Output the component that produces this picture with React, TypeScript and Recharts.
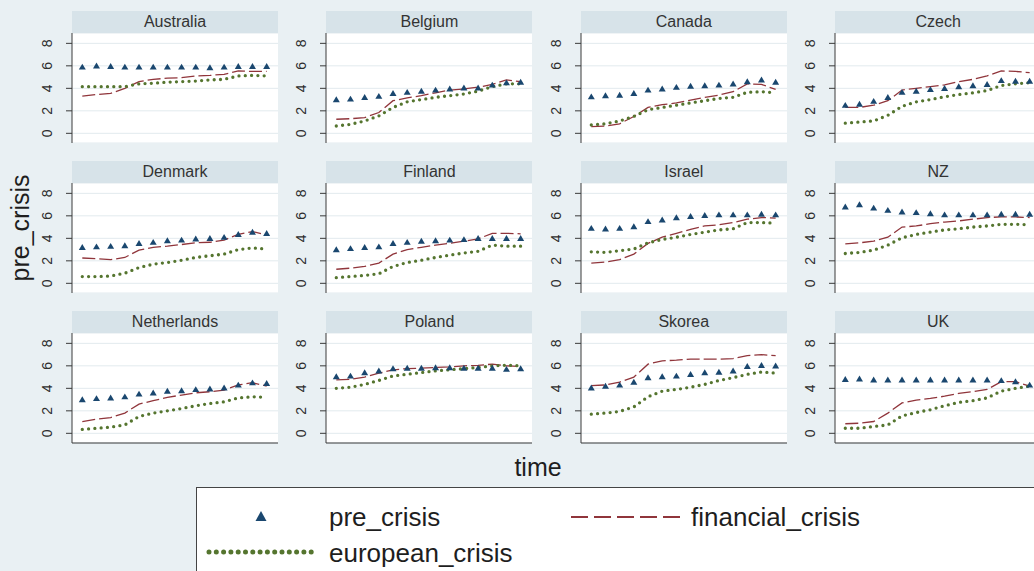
import { ComposedChart, Line, Scatter, XAxis, YAxis, CartesianGrid } from 'recharts';

const time = [1, 2, 3, 4, 5, 6, 7, 8, 9, 10, 11, 12, 13, 14];
const yTicks = [0, 2, 4, 6, 8];

const australiaPre = [5.9, 6.0, 5.95, 5.9, 5.9, 5.9, 5.9, 5.9, 5.9, 5.85, 5.9, 5.95, 5.95, 5.95];
const australiaFin = [3.3, 3.45, 3.55, 4.0, 4.6, 4.8, 4.9, 4.95, 5.1, 5.15, 5.25, 5.55, 5.5, 5.5];
const australiaEur = [4.15, 4.15, 4.15, 4.15, 4.4, 4.45, 4.55, 4.6, 4.65, 4.75, 4.8, 5.1, 5.15, 5.1];

const belgiumPre = [3.0, 3.05, 3.2, 3.3, 3.55, 3.65, 3.75, 3.85, 3.95, 4.05, 4.05, 4.3, 4.5, 4.55];
const belgiumFin = [1.25, 1.3, 1.4, 1.85, 2.9, 3.15, 3.35, 3.6, 3.85, 3.95, 4.1, 4.35, 4.75, 4.6];
const belgiumEur = [0.65, 0.8, 1.1, 1.55, 2.3, 2.8, 3.0, 3.2, 3.35, 3.5, 3.75, 4.15, 4.4, 4.4];

const canadaPre = [3.25, 3.35, 3.4, 3.55, 3.85, 3.95, 4.1, 4.2, 4.25, 4.3, 4.4, 4.6, 4.75, 4.55];
const canadaFin = [0.6, 0.65, 0.85, 1.5, 2.3, 2.55, 2.7, 2.95, 3.2, 3.4, 3.7, 4.4, 4.35, 3.9];
const canadaEur = [0.75, 0.85, 1.1, 1.5, 2.1, 2.3, 2.5, 2.7, 2.9, 3.1, 3.2, 3.65, 3.7, 3.6];

const czechPre = [2.5, 2.6, 2.85, 3.2, 3.65, 3.75, 3.9, 4.0, 4.15, 4.25, 4.35, 4.7, 4.65, 4.65];
const czechFin = [2.3, 2.3, 2.5, 2.9, 3.85, 4.0, 4.15, 4.3, 4.6, 4.8, 5.1, 5.55, 5.5, 5.4];
const czechEur = [0.9, 1.0, 1.1, 1.6, 2.4, 2.8, 3.0, 3.25, 3.45, 3.6, 3.8, 4.25, 4.4, 4.5];

const denmarkPre = [3.2, 3.25, 3.3, 3.35, 3.55, 3.65, 3.8, 3.85, 3.95, 4.0, 4.1, 4.35, 4.55, 4.45];
const denmarkFin = [2.25, 2.2, 2.1, 2.3, 2.95, 3.2, 3.3, 3.45, 3.6, 3.65, 3.85, 4.35, 4.6, 4.3];
const denmarkEur = [0.6, 0.6, 0.65, 0.9, 1.4, 1.7, 1.85, 2.05, 2.3, 2.45, 2.6, 3.0, 3.15, 3.05];

const finlandPre = [3.0, 3.1, 3.2, 3.25, 3.55, 3.65, 3.75, 3.8, 3.85, 3.9, 4.0, 4.0, 4.0, 4.0];
const finlandFin = [1.25, 1.35, 1.5, 1.8, 2.6, 3.0, 3.2, 3.4, 3.55, 3.75, 3.95, 4.45, 4.45, 4.4];
const finlandEur = [0.5, 0.6, 0.7, 0.85, 1.5, 1.85, 2.05, 2.3, 2.5, 2.7, 2.85, 3.4, 3.3, 3.3];

const israelPre = [4.9, 4.85, 4.9, 5.05, 5.5, 5.65, 5.85, 5.95, 6.05, 6.1, 6.1, 6.1, 6.15, 6.1];
const israelFin = [1.8, 1.9, 2.1, 2.6, 3.55, 4.1, 4.45, 4.8, 5.1, 5.2, 5.4, 5.7, 5.85, 5.8];
const israelEur = [2.8, 2.75, 2.9, 3.05, 3.6, 3.9, 4.1, 4.35, 4.55, 4.75, 4.85, 5.4, 5.4, 5.35];

const nzPre = [6.8, 7.0, 6.7, 6.5, 6.35, 6.3, 6.2, 6.1, 6.1, 6.1, 6.1, 6.15, 6.15, 6.15];
const nzFin = [3.5, 3.6, 3.75, 4.1, 5.0, 5.1, 5.3, 5.45, 5.55, 5.7, 5.85, 5.9, 5.9, 5.85];
const nzEur = [2.65, 2.75, 2.95, 3.4, 4.05, 4.35, 4.55, 4.75, 4.85, 5.0, 5.1, 5.25, 5.25, 5.2];

const netherlandsPre = [3.0, 3.1, 3.15, 3.25, 3.5, 3.6, 3.75, 3.8, 3.9, 3.95, 4.05, 4.3, 4.5, 4.45];
const netherlandsFin = [1.05, 1.25, 1.4, 1.8, 2.6, 2.9, 3.2, 3.4, 3.6, 3.7, 3.85, 4.3, 4.5, 4.2];
const netherlandsEur = [0.35, 0.45, 0.55, 0.75, 1.5, 1.8, 2.0, 2.2, 2.45, 2.65, 2.8, 3.15, 3.25, 3.2];

const polandPre = [5.05, 5.1, 5.4, 5.55, 5.75, 5.8, 5.8, 5.85, 5.85, 5.8, 5.8, 5.8, 5.7, 5.75];
const polandFin = [4.75, 4.8, 5.0, 5.35, 5.65, 5.75, 5.8, 5.85, 5.9, 6.0, 6.05, 6.15, 6.0, 5.95];
const polandEur = [4.0, 4.1, 4.35, 4.7, 5.1, 5.25, 5.4, 5.55, 5.65, 5.75, 5.85, 6.0, 6.05, 6.0];

const skoreaPre = [4.05, 4.2, 4.3, 4.55, 4.95, 5.05, 5.1, 5.25, 5.4, 5.45, 5.55, 5.95, 6.05, 6.0];
const skoreaFin = [4.25, 4.3, 4.55, 5.0, 6.15, 6.45, 6.5, 6.6, 6.6, 6.6, 6.65, 6.9, 7.0, 6.9];
const skoreaEur = [1.7, 1.8, 1.95, 2.35, 3.25, 3.75, 3.9, 4.1, 4.35, 4.7, 4.95, 5.25, 5.45, 5.35];

const ukPre = [4.8, 4.85, 4.75, 4.75, 4.75, 4.75, 4.75, 4.75, 4.75, 4.75, 4.75, 4.7, 4.6, 4.3];
const ukFin = [0.85, 0.9, 1.05, 1.8, 2.7, 2.95, 3.1, 3.3, 3.55, 3.7, 3.9, 4.6, 4.6, 4.2];
const ukEur = [0.45, 0.45, 0.6, 0.75, 1.55, 1.85, 2.1, 2.45, 2.75, 2.9, 3.15, 3.75, 4.0, 4.2];

const panels = [
  { name: 'Australia', pre: australiaPre, fin: australiaFin, eur: australiaEur },
  { name: 'Belgium', pre: belgiumPre, fin: belgiumFin, eur: belgiumEur },
  { name: 'Canada', pre: canadaPre, fin: canadaFin, eur: canadaEur },
  { name: 'Czech', pre: czechPre, fin: czechFin, eur: czechEur },
  { name: 'Denmark', pre: denmarkPre, fin: denmarkFin, eur: denmarkEur },
  { name: 'Finland', pre: finlandPre, fin: finlandFin, eur: finlandEur },
  { name: 'Israel', pre: israelPre, fin: israelFin, eur: israelEur },
  { name: 'NZ', pre: nzPre, fin: nzFin, eur: nzEur },
  { name: 'Netherlands', pre: netherlandsPre, fin: netherlandsFin, eur: netherlandsEur },
  { name: 'Poland', pre: polandPre, fin: polandFin, eur: polandEur },
  { name: 'Skorea', pre: skoreaPre, fin: skoreaFin, eur: skoreaEur },
  { name: 'UK', pre: ukPre, fin: ukFin, eur: ukEur },
];

const NAVY = '#1a476f';
const MAROON = '#90353b';
const GREEN = '#55752f';
const PAGE_BG = '#e9f0f3';
const STRIP_BG = '#d7e3e9';
const GRID = '#e2eaee';
const AXIS = '#3a3a3a';
const FONT = '"Liberation Sans", Arial, sans-serif';

// panel geometry
const AXIS_W = 40;
const PLOT_W = 206;
const PLOT_H = 110;
const STRIP_H = 22;
const colLeft = [72, 326.4, 580.8, 835.2];
const rowTop = [11, 161, 311];

const YTick = (props: any) => {
  const { x, y, payload } = props;
  const cx = x - 17;
  return (
    <text
      x={cx}
      y={y}
      dy="0.35em"
      textAnchor="middle"
      fontSize={14}
      fill="#2e2e2e"
      fontFamily={FONT}
      transform={`rotate(-90, ${cx}, ${y})`}
    >
      {payload.value}
    </text>
  );
};

const Triangle = (props: any) => {
  const { cx, cy } = props;
  if (cx == null || cy == null) return null;
  return (
    <polygon
      points={`${cx - 3.5},${cy + 2.6} ${cx + 3.5},${cy + 2.6} ${cx},${cy - 3.3}`}
      fill={NAVY}
    />
  );
};

const Panel = ({ p, row, col }: { p: (typeof panels)[number]; row: number; col: number }) => {
  const data = time.map((t, i) => ({ t, pre: p.pre[i], fin: p.fin[i], eur: p.eur[i] }));
  const left = colLeft[col];
  const top = rowTop[row];
  const bottomRow = row === 2;
  return (
    <>
      <div
        style={{
          position: 'absolute',
          left,
          top,
          width: PLOT_W,
          height: STRIP_H,
          background: STRIP_BG,
          color: '#333',
          fontSize: 16,
          lineHeight: `${STRIP_H}px`,
          textAlign: 'center',
          fontFamily: FONT,
        }}
      >
        {p.name}
      </div>
      <div style={{ position: 'absolute', left: left - AXIS_W, top: top + STRIP_H }}>
        <ComposedChart
          width={AXIS_W + PLOT_W}
          height={PLOT_H + (bottomRow ? 1 : 0)}
          data={data}
          margin={{ top: 0, right: 0, bottom: 0, left: 0 }}
        >
          <CartesianGrid vertical={false} stroke={GRID} fill="#ffffff" />
          <XAxis
            dataKey="t"
            type="number"
            domain={[0.274, 14.8]}
            allowDataOverflow
            hide={!bottomRow}
            height={1}
            tick={false}
            tickLine={false}
            axisLine={{ stroke: AXIS }}
          />
          <YAxis
            width={AXIS_W}
            domain={[-0.86, 8.92]}
            ticks={yTicks}
            interval={0}
            allowDataOverflow
            tickSize={6}
            tickMargin={2}
            tick={<YTick />}
            tickLine={{ stroke: AXIS }}
            axisLine={{ stroke: AXIS }}
          />
          <Scatter dataKey="pre" shape={<Triangle />} isAnimationActive={false} />
          <Line
            dataKey="fin"
            type="linear"
            stroke={MAROON}
            strokeWidth={1.3}
            strokeDasharray="13 4"
            dot={false}
            isAnimationActive={false}
          />
          <Line
            dataKey="eur"
            type="linear"
            stroke={GREEN}
            strokeWidth={3.3}
            strokeDasharray="0 6.3"
            strokeLinecap="round"
            dot={false}
            isAnimationActive={false}
          />
        </ComposedChart>
      </div>
    </>
  );
};

const LegendBox = () => (
  <div
    style={{
      position: 'absolute',
      left: 196,
      top: 487,
      width: 900,
      height: 120,
      background: '#ffffff',
      border: '1px solid #444',
    }}
  >
    <svg width={900} height={120} style={{ position: 'absolute', left: 0, top: 0 }}>
      <polygon points="58.5,33 69.5,33 64,23" fill={NAVY} />
      <line x1={374} y1={29} x2={484} y2={29} stroke={MAROON} strokeWidth={2} strokeDasharray="17 6" />
      <line
        x1={12}
        y1={64}
        x2={118}
        y2={64}
        stroke={GREEN}
        strokeWidth={5}
        strokeDasharray="0 7.3"
        strokeLinecap="round"
      />
      <text x={132} y={29} dy="0.35em" fontSize={26} fontFamily={FONT} fill="#1e1e1e">
        pre_crisis
      </text>
      <text x={494} y={29} dy="0.35em" fontSize={26} fontFamily={FONT} fill="#1e1e1e">
        financial_crisis
      </text>
      <text x={132} y={65} dy="0.35em" fontSize={26} fontFamily={FONT} fill="#1e1e1e">
        european_crisis
      </text>
    </svg>
  </div>
);

export default function App() {
  return (
    <div
      style={{
        position: 'fixed',
        left: 0,
        top: 0,
        width: 1034,
        height: 571,
        overflow: 'hidden',
        background: PAGE_BG,
        fontFamily: FONT,
      }}
    >
      {panels.map((p, i) => (
        <Panel key={p.name} p={p} row={Math.floor(i / 4)} col={i % 4} />
      ))}
      <svg width={1034} height={571} style={{ position: 'absolute', left: 0, top: 0, pointerEvents: 'none' }}>
        <text
          x={20}
          y={228}
          dy="0.35em"
          textAnchor="middle"
          fontSize={25}
          fontFamily={FONT}
          fill="#1e1e1e"
          transform="rotate(-90, 20, 228)"
        >
          pre_crisis
        </text>
        <text x={538} y={467} dy="0.35em" textAnchor="middle" fontSize={25} fontFamily={FONT} fill="#1e1e1e">
          time
        </text>
      </svg>
      <LegendBox />
    </div>
  );
}
